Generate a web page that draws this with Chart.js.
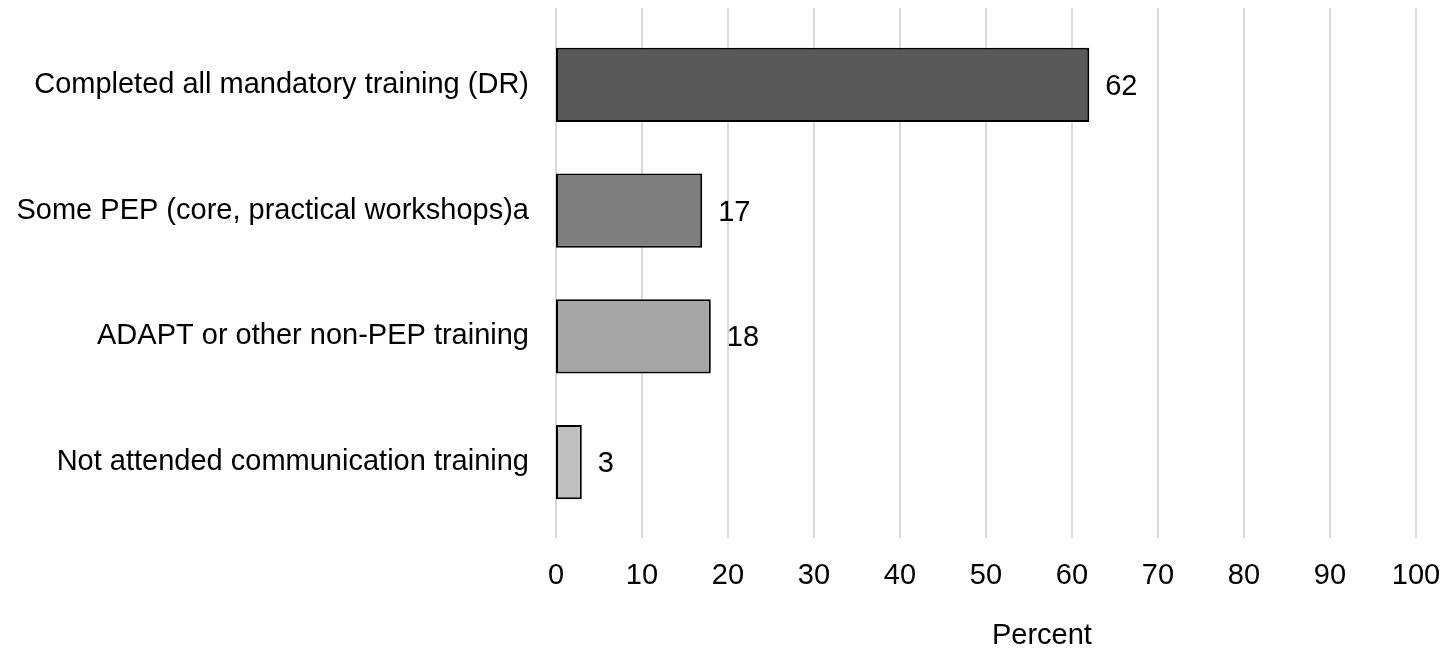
<!DOCTYPE html>
<html>
<head>
<meta charset="utf-8">
<script src="https://cdn.jsdelivr.net/npm/chart.js@4.4.1/dist/chart.umd.min.js"></script>
<style>
  html, body { margin: 0; padding: 0; background: #ffffff; }
  #wrap { width: 1445px; height: 649px; position: relative; }
</style>
</head>
<body>
<div id="wrap"><canvas id="chart" width="1445" height="649"></canvas></div>
<script>
// Training categories and the share of respondents in each (percent)
const categories = [
  'Completed all mandatory training (DR)',
  'Some PEP (core, practical workshops)a',
  'ADAPT or other non-PEP training',
  'Not attended communication training'
];
const percentValues = [62, 17, 18, 3];
const barColors = ['#595959', '#7f7f7f', '#a5a5a5', '#bfbfbf'];
const xTicks = [0, 10, 20, 30, 40, 50, 60, 70, 80, 90, 100];
const xAxisTitle = 'Percent';

const FONT = "'Liberation Sans', Arial, sans-serif";

// Vertical gridlines that run a little past the bar band at top and bottom
const extendedGrid = {
  id: 'extendedGrid',
  beforeDatasetsDraw(chart) {
    const { ctx, scales: { x }, chartArea } = chart;
    ctx.save();
    ctx.strokeStyle = '#d9d9d9';
    ctx.lineWidth = 2;
    xTicks.forEach(v => {
      const px = Math.round(x.getPixelForValue(v));
      ctx.beginPath();
      ctx.moveTo(px, chartArea.top - 14);
      ctx.lineTo(px, chartArea.bottom + 13);
      ctx.stroke();
    });
    ctx.restore();
  }
};

// Value labels to the right of each bar, plus the axis title
const valueLabels = {
  id: 'valueLabels',
  afterDatasetsDraw(chart) {
    const { ctx } = chart;
    const meta = chart.getDatasetMeta(0);
    ctx.save();
    ctx.font = '29px ' + FONT;
    ctx.fillStyle = '#000000';
    ctx.textAlign = 'left';
    ctx.textBaseline = 'middle';
    meta.data.forEach((bar, i) => {
      ctx.fillText(String(percentValues[i]), bar.x + 16, bar.y + 2);
    });
    const x = chart.scales.x;
    ctx.textAlign = 'center';
    ctx.fillText(xAxisTitle, x.getPixelForValue(56.5), 636);
    ctx.restore();
  }
};

new Chart(document.getElementById('chart'), {
  type: 'bar',
  data: {
    labels: categories,
    datasets: [{
      data: percentValues,
      backgroundColor: barColors,
      borderColor: '#000000',
      borderWidth: 2,
      borderSkipped: false,
      barPercentage: 0.59,
      categoryPercentage: 1.0
    }]
  },
  options: {
    indexAxis: 'y',
    responsive: false,
    animation: false,
    devicePixelRatio: 1,
    layout: { padding: { top: 22, right: 29, left: 0, bottom: 0 } },
    plugins: {
      legend: { display: false },
      tooltip: { enabled: false }
    },
    scales: {
      x: {
        type: 'linear',
        min: 0,
        max: 100,
        afterBuildTicks(scale) { scale.ticks = xTicks.map(v => ({ value: v })); },
        afterFit(scale) {
          scale.height = 124;
          scale.paddingLeft = 0;
          scale.paddingRight = 0;
        },
        grid: { display: false, drawTicks: false },
        border: { display: false },
        ticks: {
          font: { family: FONT, size: 29 },
          color: '#000000',
          padding: 34,
          maxRotation: 0
        }
      },
      y: {
        afterFit(scale) {
          scale.width = 556;
          scale.paddingTop = 0;
          scale.paddingBottom = 0;
        },
        grid: { display: false, drawTicks: false },
        border: { display: false },
        ticks: {
          font: { family: FONT, size: 29 },
          color: '#000000',
          padding: 27
        }
      }
    }
  },
  plugins: [extendedGrid, valueLabels]
});
</script>
</body>
</html>
